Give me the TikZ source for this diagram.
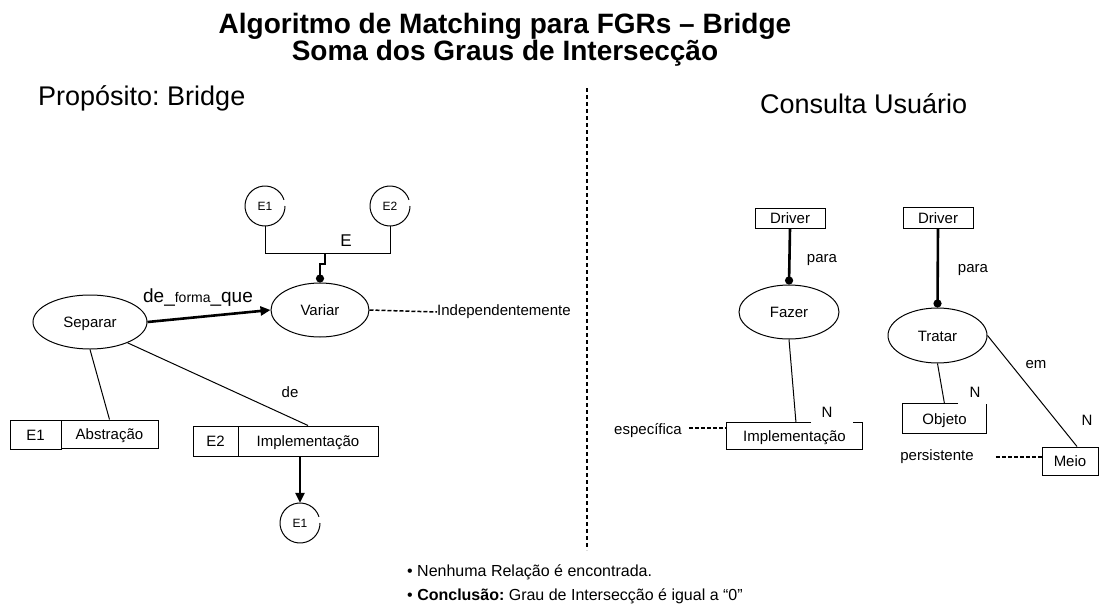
\documentclass[tikz,border=0pt]{standalone}
\usepackage{fontspec}
\setmainfont{Liberation Sans}
\usetikzlibrary{shapes.geometric,arrows.meta}
\frenchspacing
\begin{document}
\begin{tikzpicture}[x=1pt,y=-1pt,
  every node/.style={inner sep=0pt, font=\fontsize{15}{17}\selectfont},
  thin line/.style={line width=1pt},
  thick line/.style={line width=2.6pt},
  ell/.style={ellipse, draw, line width=1pt, text height=11pt, text depth=0pt},
  boxn/.style={rectangle, draw, line width=1pt, text height=11pt, text depth=0pt},
  plainbox/.style={rectangle, text height=11pt, text depth=0pt},
  ecirc/.style={circle, minimum size=40pt, font=\fontsize{12}{14}\selectfont, text height=8.6pt, text depth=0pt},
  dashline/.style={line width=1.5pt, dash pattern=on 4pt off 2pt},
  dotend/.style={-{Circle[length=8pt,width=8pt]}},
  arrowend/.style={-{Triangle[length=10pt,width=9pt]}}]
\useasboundingbox (0,0) rectangle (1101,603);
\fill[white] (0,0) rectangle (1101,603);

% titles
\node[anchor=base, font=\fontsize{28}{32}\selectfont\bfseries] (t1) at (505,33) {Algoritmo de Matching para FGRs – Bridge};
\node[anchor=base, font=\fontsize{28}{32}\selectfont\bfseries] (t2) at (505,60) {Soma dos Graus de Intersecção};
\node[anchor=west, font=\fontsize{27}{30}\selectfont] (prop) at (38,98) {Propósito: Bridge};
\node[anchor=west, font=\fontsize{27}{30}\selectfont] (cons) at (760,104) {Consulta Usuário};
\draw[line width=1.2pt, dash pattern=on 4pt off 3pt] (587,88) -- (587,550);

% ---------- left side ----------
\node[ecirc] (c1) at (265,206) {E1};
\node[ecirc] (c2) at (390,206) {E2};
\node[ecirc] (c3) at (300,523) {E1};
\foreach \c in {c1,c2,c3}
  \draw[thin line] ([shift={(18:20pt)}]\c.center) arc[start angle=18,end angle=360,radius=20pt];

\node[ell, minimum width=114pt, minimum height=54pt] (sep) at (90,322) {Separar};
\node[ell, minimum width=98pt, minimum height=54pt] (var) at (320,310) {Variar};
\node[font=\fontsize{17}{19}\selectfont] (lE) at (346,241) {E};
\coordinate (bus) at (325,253);
\draw[thin line] (c1.south) -- (c1.south |- bus) -- (c2.south |- bus) -- (c2.south);
\draw[thick line, dotend] (bus) -- ++(0,11) -| (var.north);

\draw[thick line, arrowend] (sep.east) -- (var.west);
\node[font=\fontsize{19}{21}\selectfont] (lde) at (198,298) {de\_{\fontsize{14}{16}\selectfont forma}\_que};

\node[anchor=west] (indep) at (437,312) {Independentemente};
\draw[dashline] (var.east) -- (indep.west);

\node[boxn, minimum width=51pt, minimum height=29pt] (ab1) at (35.5,434.5) {E1};
\node[boxn, minimum width=97pt, minimum height=28pt] (ab2) at (109.5,434) {Abstração};
\node[boxn, minimum width=45pt, minimum height=30pt] (im1) at (215.5,441) {E2};
\node[boxn, minimum width=140pt, minimum height=30pt] (im2) at (308,441) {Implementação};

\draw[thin line] (sep.south) -- (ab2.north);
\draw[thin line] (sep.-29) -- (im2.north);
\node (lde2) at (290,392) {de};
\draw[thick line, arrowend] (c3 |- im2.south) -- (c3.north);

% ---------- right side ----------
\node[boxn, minimum width=70pt, minimum height=20pt] (d1) at (790,218) {Driver};
\node[boxn, minimum width=70pt, minimum height=21pt] (d2) at (938,217.5) {Driver};
\node[ell, minimum width=100pt, minimum height=54pt] (faz) at (789,312) {Fazer};
\node[ell, minimum width=99pt, minimum height=55pt] (trat) at (937.5,335.5) {Tratar};
\node (p1) at (822,260) {para};
\node (p2) at (973,270) {para};
\draw[thick line, dotend] (d1.south) -- (faz.north);
\draw[thick line, dotend] (d2.south) -- (trat.north);

\node[plainbox, minimum width=135pt, minimum height=26pt] (im3) at (794.5,436) {Implementação};
\draw[thin line] ([xshift=16.5pt]im3.north) -- (im3.north west) -- (im3.south west) -- (im3.south east) -- (im3.north east) -- ++(-9,0);
\draw[thin line] (faz.south) -- ([xshift=1.5pt]im3.north);
\node (n1) at (827,412) {N};
\node (esp) at (648,431) {específica};
\draw[dashline] ([xshift=7pt,yshift=3pt]esp.east) -- ++(37,0);

\node[plainbox, minimum width=83pt, minimum height=29pt] (obj) at (944.5,418.5) {Objeto};
\draw[thin line] ([xshift=13.5pt]obj.north) -- (obj.north west) -- (obj.south west) -- (obj.south east) -- (obj.north east);
\draw[thin line] (trat.south) -- (obj.north);
\node (n2) at (975,392) {N};

\node[boxn, minimum width=56pt, minimum height=28pt] (meio) at (1070,461) {Meio};
\draw[thin line] (trat.east) -- ([xshift=7pt]meio.north);
\node (em) at (1036,365) {em};
\node (n3) at (1087,420) {N};
\node (pers) at (937,457) {persistente};
\draw[dashline] ([xshift=22pt]pers.east) -- (pers.east -| meio.west);

% bottom text
\node[anchor=west, font=\fontsize{16}{18}\selectfont] (b1) at (407,572) {• Nenhuma Relação é encontrada.};
\node[anchor=west, font=\fontsize{16}{18}\selectfont] (b2) at (407,596) {• \textbf{Conclusão:} Grau de Intersecção é igual a “0”};
\end{tikzpicture}
\end{document}
